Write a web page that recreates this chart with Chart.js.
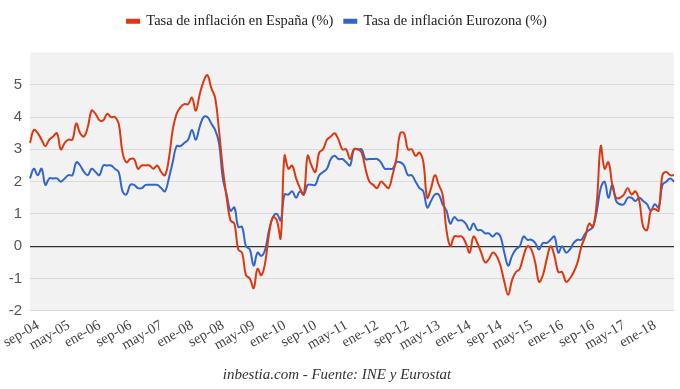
<!DOCTYPE html>
<html>
<head>
<meta charset="utf-8">
<script src="https://cdn.jsdelivr.net/npm/chart.js@4"></script>
<style>
  html, body { margin: 0; padding: 0; background: #fff; }
  #wrap { width: 680px; height: 389px; position: relative; }
</style>
</head>
<body>
<div id="wrap"><canvas id="inflationChart"></canvas></div>
<script>
'use strict';

// Months in Spanish, data runs sep-04 .. ago-18
const monthNames = ['ene', 'feb', 'mar', 'abr', 'may', 'jun', 'jul', 'ago', 'sep', 'oct', 'nov', 'dic'];
const startYear = 2004;
const startMonth = 8;   // sep
const labelEvery = 8;

// Tasa de inflación en España (%)
const spain = [
    3.2, 3.6, 3.5, 3.3,
    3.1, 3.3, 3.4, 3.5, 3.0, 3.2, 3.3, 3.3, 3.8, 3.5, 3.4, 3.7,
    4.2, 4.1, 3.9, 3.9, 4.1, 4.0, 4.0, 3.8, 2.9, 2.6, 2.7, 2.7,
    2.4, 2.5, 2.5, 2.5, 2.4, 2.5, 2.3, 2.2, 2.7, 3.6, 4.1, 4.3,
    4.4, 4.4, 4.6, 4.2, 4.7, 5.1, 5.3, 4.9, 4.6, 3.6, 2.4, 1.5,
    0.8, 0.7, -0.1, -0.2, -0.9, -1.0, -1.3, -0.7, -0.9, -0.5, 0.4, 0.9,
    0.8, 0.25, 2.8, 2.4, 2.5, 2.1, 1.8, 1.6, 2.8, 2.5, 2.3, 2.9,
    3.0, 3.3, 3.4, 3.5, 3.3, 3.0, 3.0, 2.7, 3.0, 3.0, 2.9, 2.4,
    2.0, 1.9, 1.8, 2.0, 1.9, 1.8, 2.2, 2.7, 3.5, 3.5, 3.0, 3.0,
    2.8, 2.9, 2.6, 1.5, 1.8, 2.2, 1.9, 1.6, 0.5, 0.0, 0.3, 0.3,
    0.3, 0.1, -0.2, 0.3, 0.1, -0.2, -0.5, -0.4, -0.2, -0.3, -0.6, -1.1,
    -1.5, -1.05, -0.8, -0.7, -0.3, 0.0, -0.1, -0.5, -1.1, -0.9, -0.4, 0.0,
    -0.3, -0.8, -0.8, -1.1, -1.0, -0.8, -0.5, 0.0, 0.3, 0.7, 0.6, 1.4,
    3.1, 2.4, 2.6, 1.9, 1.5, 1.5, 1.6, 1.8, 1.6, 1.7, 1.4, 0.6,
    0.5, 1.1, 1.15, 1.1, 2.2, 2.3, 2.2, 2.2
];

// Tasa de inflación Eurozona (%)
const eurozone = [
    2.1, 2.4, 2.2, 2.4,
    1.9, 2.1, 2.1, 2.1, 2.0, 2.1, 2.2, 2.2, 2.6, 2.5, 2.3, 2.2,
    2.4, 2.3, 2.2, 2.5, 2.5, 2.5, 2.4, 2.3, 1.7, 1.6, 1.9, 1.9,
    1.8, 1.8, 1.9, 1.9, 1.9, 1.9, 1.8, 1.7, 2.1, 2.6, 3.1, 3.1,
    3.2, 3.3, 3.6, 3.3, 3.7, 4.0, 4.0, 3.8, 3.6, 3.2, 2.1, 1.6,
    1.1, 1.2, 0.6, 0.6, 0.0, -0.1, -0.6, -0.2, -0.3, -0.1, 0.5, 0.9,
    1.0, 0.8, 1.6, 1.6, 1.7, 1.5, 1.7, 1.6, 1.9, 1.9, 1.9, 2.2,
    2.3, 2.4, 2.7, 2.8, 2.7, 2.7, 2.6, 2.5, 3.0, 3.0, 3.0, 2.7,
    2.7, 2.7, 2.7, 2.6, 2.4, 2.4, 2.4, 2.6, 2.6, 2.5, 2.2, 2.2,
    2.0, 1.8, 1.7, 1.2, 1.4, 1.6, 1.6, 1.3, 1.1, 0.7, 0.9, 0.8,
    0.8, 0.7, 0.5, 0.7, 0.5, 0.5, 0.4, 0.4, 0.3, 0.4, 0.3, -0.2,
    -0.6, -0.3, -0.1, 0.0, 0.3, 0.2, 0.2, 0.1, -0.1, 0.1, 0.1, 0.2,
    0.3, -0.2, 0.0, -0.2, -0.1, 0.1, 0.2, 0.2, 0.4, 0.5, 0.6, 1.1,
    1.8, 2.0, 1.5, 1.9, 1.4, 1.3, 1.3, 1.5, 1.5, 1.4, 1.5, 1.4,
    1.3, 1.1, 1.3, 1.2, 1.9, 2.0, 2.1, 2.0
];

const yMin = -2;
const yMax = 6;

// month labels: "sep-04", "oct-04", ...
const labels = spain.map(function (_, i) {
    const m = startMonth + i;
    const yy = String((startYear + Math.floor(m / 12)) % 100).padStart(2, '0');
    return monthNames[m % 12] + '-' + yy;
});

const colorSpain = '#dc3912';
const colorEuro  = '#3366cc';
const serif = '"Liberation Serif", "DejaVu Serif", serif';
const sans  = '"Liberation Sans", Arial, sans-serif';

// gray plot background like the original
const plotBackground = {
    id: 'plotBackground',
    beforeDraw(chart) {
        const a = chart.chartArea;
        const ctx = chart.ctx;
        ctx.save();
        ctx.fillStyle = '#f2f2f2';
        ctx.fillRect(a.left, a.top, a.right - a.left, a.bottom - a.top);
        ctx.restore();
    }
};

// extra room under the legend so the plot starts lower
const legendSpacer = {
    id: 'legendSpacer',
    beforeInit(chart) {
        const origFit = chart.legend.fit;
        chart.legend.fit = function () {
            origFit.call(this);
            this.height += 14;
        };
    }
};

new Chart(document.getElementById('inflationChart'), {
    type: 'line',
    data: {
        labels: labels,
        datasets: [{
            label: 'Tasa de inflación en España (%)',
            data: spain,
            borderColor: colorSpain,
            backgroundColor: colorSpain,
            borderWidth: 2,
            pointRadius: 0,
            tension: 0.4
        }, {
            label: 'Tasa de inflación Eurozona (%)',
            data: eurozone,
            borderColor: colorEuro,
            backgroundColor: colorEuro,
            borderWidth: 2,
            pointRadius: 0,
            tension: 0.4
        }]
    },
    options: {
        responsive: true,
        maintainAspectRatio: false,
        animation: false,
        layout: { padding: { left: 0, right: 6, top: 3, bottom: 0 } },
        plugins: {
            legend: {
                display: true,
                position: 'top',
                labels: {
                    boxWidth: 12,
                    boxHeight: 3,
                    padding: 11,
                    color: '#222',
                    font: { family: serif, size: 14.5 }
                }
            },
            title: {
                display: true,
                position: 'bottom',
                text: 'inbestia.com - Fuente: INE y Eurostat',
                color: '#333',
                font: { family: serif, size: 15, style: 'italic', weight: 'normal' },
                padding: { top: 6, bottom: 5 }
            },
            tooltip: { enabled: false }
        },
        scales: {
            x: {
                grid: { display: false, drawTicks: false },
                border: { display: false },
                afterFit: function (scale) {
                    scale.paddingLeft = 0;
                    scale.paddingRight = 0;
                },
                ticks: {
                    autoSkip: false,
                    maxRotation: 30,
                    minRotation: 30,
                    padding: 6,
                    labelOffset: 8,
                    color: '#444',
                    font: { family: serif, size: 14.5 },
                    callback: function (value, index) {
                        return index % labelEvery === 0 ? labels[index] : '';
                    }
                }
            },
            y: {
                min: yMin,
                max: yMax,
                afterFit: function (scale) { scale.width = 30; },
                border: { display: false },
                grid: {
                    drawTicks: false,
                    lineWidth: function (c) { return c.tick && c.tick.value === 0 ? 1.2 : 1; },
                    color: function (c) {
                        if (!c.tick) return '#dadada';
                        if (c.tick.value === 0) return '#333';
                        if (c.tick.value === yMax) return 'rgba(0,0,0,0)';
                        return '#dadada';
                    }
                },
                ticks: {
                    stepSize: 1,
                    padding: 8,
                    color: '#555',
                    font: { family: sans, size: 15 },
                    callback: function (v) { return v === yMax ? '' : v; }
                }
            }
        }
    },
    plugins: [plotBackground, legendSpacer]
});
</script>
</body>
</html>
